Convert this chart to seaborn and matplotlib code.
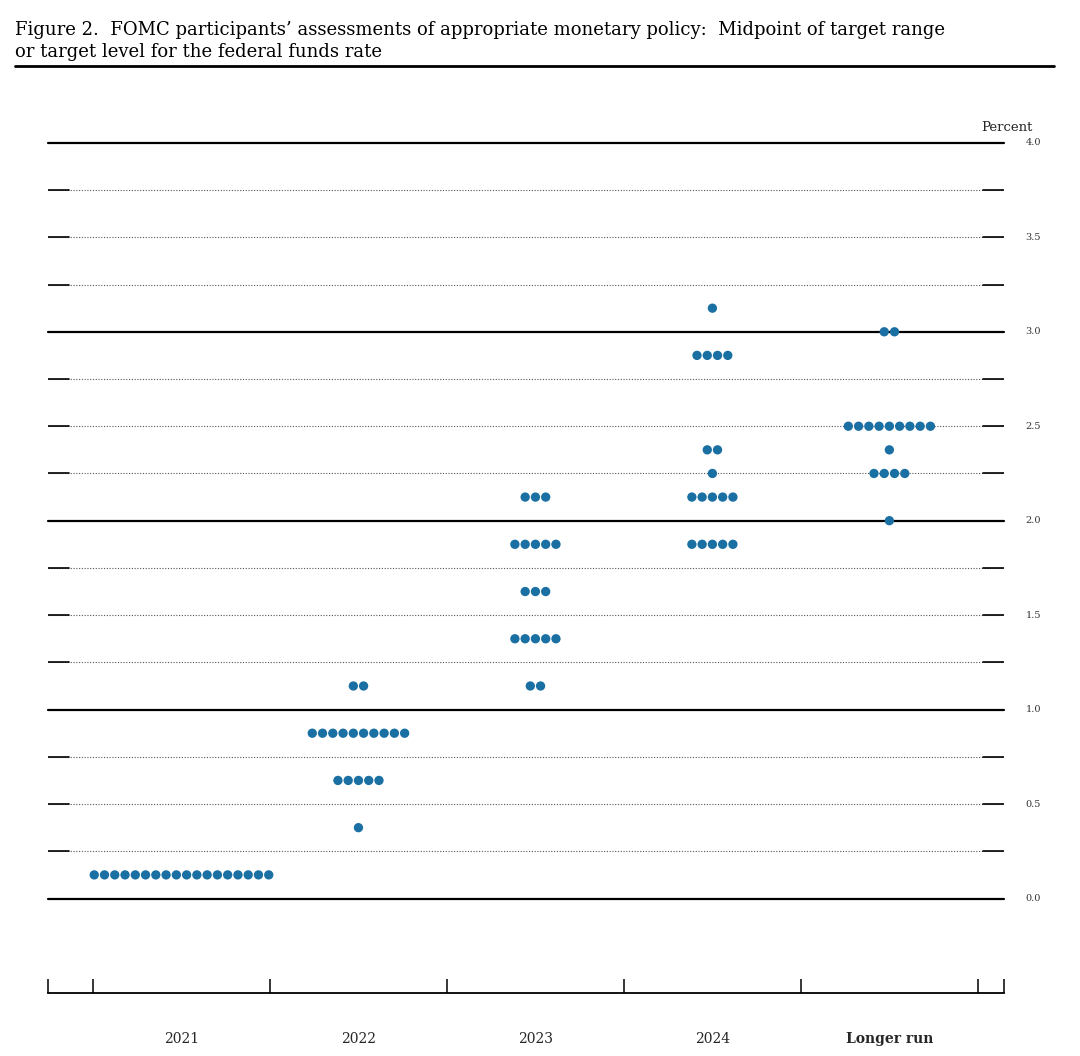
import seaborn as sns
import matplotlib.pyplot as plt
import pandas as pd

years = ["2021", "2022", "2023", "2024", "Longer run"]
# (rate, number of participants) for each year
dots_2021 = [(0.125, 18)]
dots_2022 = [(1.125, 2), (0.875, 10), (0.625, 5), (0.375, 1)]
dots_2023 = [(2.125, 3), (1.875, 5), (1.625, 3), (1.375, 5), (1.125, 2)]
dots_2024 = [(3.125, 1), (2.875, 4), (2.375, 2), (2.25, 1), (2.125, 5), (1.875, 5)]
dots_lr = [(3.0, 2), (2.5, 9), (2.375, 1), (2.25, 4), (2.0, 1)]
y_ticks = [0.0, 0.5, 1.0, 1.5, 2.0, 2.5, 3.0, 3.5, 4.0]

step = 0.058
rows = []
for i, d in enumerate([dots_2021, dots_2022, dots_2023, dots_2024, dots_lr]):
    for rate, n in d:
        for k in range(n):
            rows.append({"x": i + (k - (n - 1) / 2) * step, "rate": rate})
df = pd.DataFrame(rows)

sns.set_style("white")
plt.rcParams['font.family'] = ['DejaVu Serif']
fig = plt.figure(figsize=(10.8, 10.56), dpi=100)
ax = fig.add_axes([0.044, 0.0597, 0.886, 0.805])

xmin, xmax = -0.757, 4.65
for j in range(17):
    v = j * 0.25
    if j % 4 == 0:
        line = ax.axhline(v, color="black", lw=1.6, zorder=1)
        line.set_clip_on(False)
    else:
        ax.axhline(v, color="#555555", lw=0.8, ls=(0, (1, 1.5)), zorder=1)
        ax.plot([xmin, xmin + 0.12], [v, v], color="black", lw=1.2, zorder=1)
        ax.plot([xmax - 0.12, xmax], [v, v], color="black", lw=1.2, zorder=1)

sns.scatterplot(data=df, x="x", y="rate", ax=ax, color="#1a6fa3", s=45,
                edgecolor="none", zorder=3, legend=False)

ax.set_xlim(xmin, xmax)
ax.set_ylim(-0.5, 4.0)
for s in ["top", "left", "right"]:
    ax.spines[s].set_visible(False)
ax.spines["bottom"].set_linewidth(1.3)
ax.spines["bottom"].set_color("black")
ax.set_xticks([xmin, -0.5, 0.5, 1.5, 2.5, 3.5, 4.5, xmax])
ax.set_xticklabels([])
ax.tick_params(axis="x", which="major", length=10, width=1.3, direction="in", bottom=True)
ax.set_xticks(range(5), minor=True)
ax.set_xticklabels(years, minor=True)
ax.tick_params(axis="x", which="minor", length=0, pad=28, labelsize=10)
ax.get_xticklabels(minor=True)[-1].set_fontweight("bold")
ax.set_yticks([])
ax.set_xlabel("")
ax.set_ylabel("")
for v in y_ticks:
    ax.text(1.03, (v + 0.5) / 4.5, f"{v:.1f}", transform=ax.transAxes,
            fontsize=7, va="center", ha="center", color="#333333")
ax.text(1.03, 1.01, "Percent", transform=ax.transAxes, fontsize=9.5, ha="right", va="bottom")

fig.text(0.014, 0.972, "Figure 2.  FOMC participants\u2019 assessments of appropriate monetary policy:  Midpoint of target range",
         fontsize=13, va="center", color="black")
fig.text(0.014, 0.951, "or target level for the federal funds rate", fontsize=13, va="center", color="black")
fig.add_artist(plt.Line2D([0.014, 0.976], [0.9375, 0.9375], color="black", lw=2))

fig.savefig("out.png", dpi=100)
